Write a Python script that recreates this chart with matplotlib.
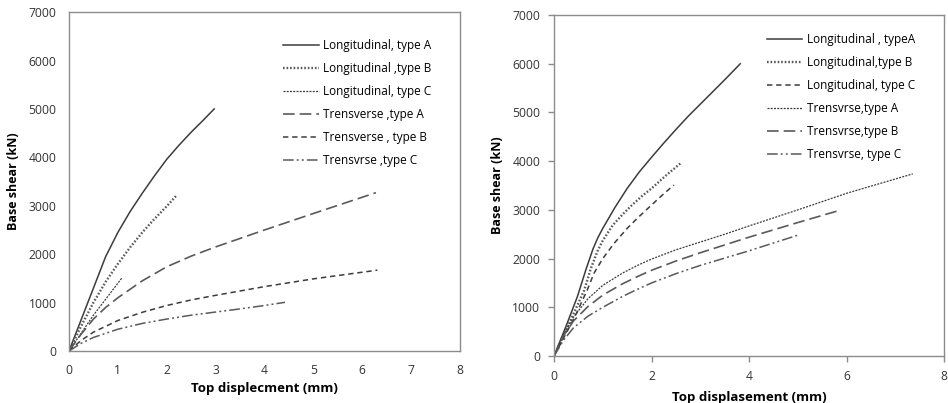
import matplotlib
matplotlib.use('Agg')
import matplotlib.pyplot as plt

plt.rcParams['font.family'] = ['Open Sans', 'DejaVu Sans']

# ---- left chart: top displecment (mm) vs base shear (kN)
l_long_a_x = [0, 0.25, 0.5, 0.75, 1.0, 1.25, 1.5, 1.75, 2.0, 2.25, 2.5, 2.75, 2.97]
l_long_a_y = [0, 650, 1300, 1950, 2450, 2880, 3260, 3620, 3960, 4250, 4520, 4770, 5000]
l_long_b_x = [0, 0.25, 0.5, 0.75, 1.0, 1.25, 1.5, 1.75, 2.0, 2.21]
l_long_b_y = [0, 520, 1000, 1430, 1800, 2140, 2450, 2730, 2990, 3225]
l_long_c_x = [0, 0.5, 1.09]
l_long_c_y = [0, 740, 1520]
l_trans_a_x = [0, 0.25, 0.5, 0.75, 1.0, 1.5, 2.0, 2.5, 3.0, 4.0, 5.0, 6.28]
l_trans_a_y = [0, 350, 660, 900, 1100, 1450, 1740, 1960, 2150, 2500, 2840, 3270]
l_trans_b_x = [0, 0.25, 0.5, 1.0, 1.5, 2.0, 2.5, 3.0, 4.0, 5.0, 6.31]
l_trans_b_y = [0, 220, 390, 630, 800, 940, 1055, 1150, 1330, 1490, 1670]
l_trans_c_x = [0, 0.25, 0.5, 1.0, 1.5, 2.0, 2.5, 3.0, 3.5, 4.0, 4.42]
l_trans_c_y = [0, 160, 280, 450, 570, 660, 740, 805, 870, 940, 1006]

# ---- right chart
r_long_a_x = [0, 0.25, 0.48, 0.65, 0.8, 0.9, 1.0, 1.25, 1.5, 1.75, 2.0, 2.25, 2.5, 2.75, 3.0, 3.25, 3.5, 3.82]
r_long_a_y = [0, 620, 1220, 1760, 2200, 2430, 2620, 3050, 3440, 3780, 4080, 4370, 4650, 4920, 5170, 5420, 5670, 6000]
r_long_b_x = [0, 0.3, 0.62, 0.75, 0.89, 1.0, 1.2, 1.4, 1.6, 1.8, 2.0, 2.3, 2.6]
r_long_b_y = [0, 650, 1350, 1780, 2150, 2370, 2680, 2900, 3100, 3280, 3440, 3710, 3960]
r_long_c_x = [0, 0.4, 0.68, 0.82, 1.0, 1.23, 1.5, 1.71, 2.0, 2.25, 2.46]
r_long_c_y = [0, 750, 1350, 1700, 2000, 2310, 2620, 2830, 3100, 3330, 3510]
r_trans_a_x = [0, 0.2, 0.4, 0.7, 1.0, 1.4, 1.71, 2.0, 2.5, 3.0, 3.5, 4.0, 5.0, 6.0, 7.36]
r_trans_a_y = [0, 450, 800, 1180, 1450, 1700, 1860, 1990, 2180, 2340, 2500, 2670, 3000, 3340, 3740]
r_trans_b_x = [0, 0.2, 0.4, 0.7, 1.0, 1.4, 1.71, 2.0, 2.5, 3.0, 3.5, 4.0, 5.0, 5.89]
r_trans_b_y = [0, 420, 720, 1020, 1250, 1480, 1630, 1760, 1950, 2120, 2280, 2440, 2740, 3000]
r_trans_c_x = [0, 0.2, 0.4, 0.7, 1.0, 1.4, 1.71, 2.0, 2.5, 3.0, 3.5, 4.0, 4.5, 5.0]
r_trans_c_y = [0, 330, 580, 820, 1000, 1220, 1370, 1500, 1690, 1860, 2010, 2160, 2320, 2480]

left_labels = ['Longitudinal, type A', 'Longitudinal ,type B', 'Longitudinal, type C',
               'Trensverse ,type A', 'Trensverse , type B', 'Trensvrse ,type C']
right_labels = ['Longitudinal , typeA', 'Longitudinal,type B', 'Longitudinal, type C',
                'Trensvrse,type A', 'Trensvrse,type B', 'Trensvrse, type C']

dark = '#3c3c3c'
mid = '#5a5a5a'
solid = dict(color=dark, lw=1.1, ls='-')
dots = dict(color=mid, lw=1.7, ls=(0, (0.7, 0.8)))
fine = dict(color=dark, lw=0.9, ls=(0, (1.6, 1.0)))
longdash = dict(color=mid, lw=1.2, ls=(0, (7, 3)))
shortdash = dict(color=dark, lw=1.1, ls=(0, (3.5, 2.5)))
dashdotdot = dict(color=mid, lw=1.1, ls=(0, (7, 2, 1.3, 2, 1.3, 2)))

fig = plt.figure(figsize=(9.48, 4.03), dpi=100)
ax1 = fig.add_axes([0.0728, 0.129, 0.4124, 0.841])
ax2 = fig.add_axes([0.5844, 0.1166, 0.4114, 0.846])

ax1.plot(l_long_a_x, l_long_a_y, label=left_labels[0], **solid)
ax1.plot(l_long_b_x, l_long_b_y, label=left_labels[1], **dots)
ax1.plot(l_long_c_x, l_long_c_y, label=left_labels[2], **fine)
ax1.plot(l_trans_a_x, l_trans_a_y, label=left_labels[3], **longdash)
ax1.plot(l_trans_b_x, l_trans_b_y, label=left_labels[4], **shortdash)
ax1.plot(l_trans_c_x, l_trans_c_y, label=left_labels[5], **dashdotdot)

ax2.plot(r_long_a_x, r_long_a_y, label=right_labels[0], **solid)
ax2.plot(r_long_b_x, r_long_b_y, label=right_labels[1], **dots)
ax2.plot(r_long_c_x, r_long_c_y, label=right_labels[2], **shortdash)
ax2.plot(r_trans_a_x, r_trans_a_y, label=right_labels[3], **fine)
ax2.plot(r_trans_b_x, r_trans_b_y, label=right_labels[4], **longdash)
ax2.plot(r_trans_c_x, r_trans_c_y, label=right_labels[5], **dashdotdot)

for ax in (ax1, ax2):
    ax.set_ylim(0, 7000)
    ax.set_xlim(0, 8)
    ax.set_yticks(range(0, 7001, 1000))
    for s in ax.spines.values():
        s.set_color('#8c8c8c')
        s.set_linewidth(1.0)
    ax.set_ylabel('Base shear (kN)', fontsize=9, fontweight='bold')

ax1.set_xticks(range(0, 9))
ax1.tick_params(length=0, pad=9, labelsize=8.7, colors='#333333')
ax1.set_xlabel('Top displecment (mm)', fontsize=9.5, fontweight='bold', labelpad=4)
ax1.yaxis.labelpad = 6
ax1.legend(loc='upper left', bbox_to_anchor=(0.547, 0.92), frameon=False, fontsize=8.5,
           handlelength=3.1, handletextpad=0.3, labelspacing=0.85, borderpad=0, borderaxespad=0)

ax2.set_xticks(range(0, 9, 2))
ax2.tick_params(direction='out', length=4, width=1, color='#8c8c8c', pad=6,
                labelsize=8.7, labelcolor='#333333')
ax2.set_xlabel('Top displasement (mm)', fontsize=9.5, fontweight='bold', labelpad=6)
ax2.yaxis.labelpad = 6
ax2.legend(loc='upper left', bbox_to_anchor=(0.546, 0.948), frameon=False, fontsize=8.5,
           handlelength=3.0, handletextpad=0.4, labelspacing=0.85, borderpad=0, borderaxespad=0)

fig.savefig('out.png', dpi=100)
